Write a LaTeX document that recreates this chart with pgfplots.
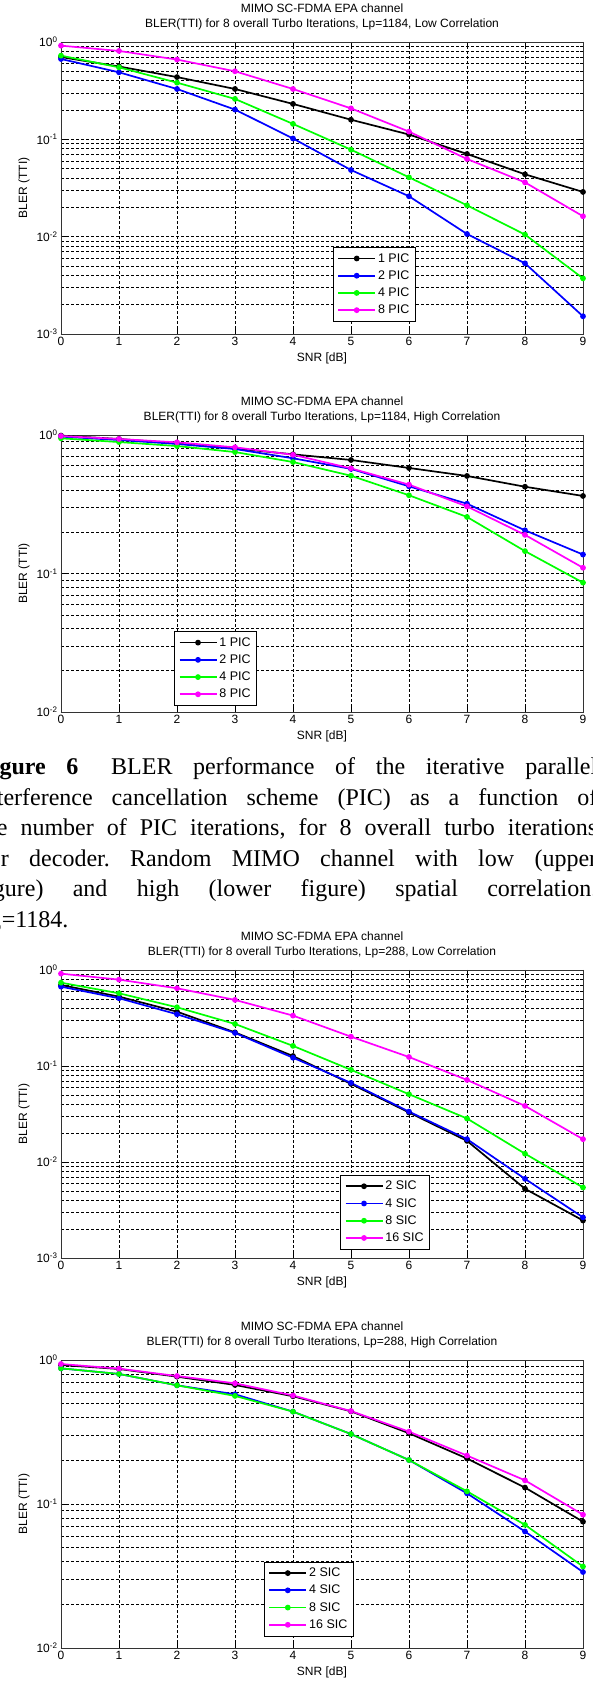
\documentclass[border=0pt]{standalone}
\usepackage{fontspec}
\setmainfont{Liberation Sans}
\newfontfamily\capfont{Liberation Serif}
\usepackage{pgfplots}
\usepackage{pgfplotstable}
\pgfplotsset{compat=1.18}

% Lp=1184, low correlation: x, 1 PIC, 2 PIC, 4 PIC, 8 PIC
\pgfplotstableread{
x a b c d
0 0.70 0.669 0.724 0.917
1 0.56 0.488 0.549 0.809
2 0.436 0.329 0.382 0.66
3 0.329 0.202 0.26 0.50
4 0.231 0.102 0.144 0.329
5 0.159 0.0484 0.0783 0.208
6 0.112 0.026 0.0407 0.12
7 0.0707 0.01065 0.021 0.0628
8 0.0437 0.00532 0.0105 0.0361
9 0.0288 0.00152 0.00373 0.0162
}\tabA
% Lp=1184, high correlation
\pgfplotstableread{
x a b c d
0 0.99 0.973 0.946 0.983
1 0.936 0.92 0.889 0.936
2 0.87 0.861 0.832 0.885
3 0.80 0.792 0.753 0.815
4 0.725 0.679 0.638 0.72
5 0.66 0.569 0.508 0.574
6 0.578 0.426 0.367 0.438
7 0.506 0.319 0.256 0.305
8 0.423 0.205 0.145 0.19
9 0.363 0.137 0.0859 0.110
}\tabB
% Lp=288, low correlation: 2 SIC, 4 SIC, 8 SIC, 16 SIC
\pgfplotstableread{
x a b c d
0 0.698 0.671 0.738 0.916
1 0.528 0.508 0.572 0.794
2 0.368 0.346 0.409 0.645
3 0.224 0.221 0.274 0.488
4 0.127 0.122 0.162 0.335
5 0.0651 0.0667 0.0912 0.202
6 0.0328 0.0335 0.0508 0.124
7 0.0166 0.0173 0.0284 0.0716
8 0.00526 0.00668 0.0122 0.0384
9 0.00246 0.00265 0.00543 0.0173
}\tabC
% Lp=288, high correlation
\pgfplotstableread{
x a b c d
0 0.923 0.875 0.875 0.938
1 0.866 0.80 0.80 0.871
2 0.766 0.667 0.667 0.774
3 0.671 0.578 0.563 0.689
4 0.56 0.438 0.438 0.567
5 0.44 0.306 0.306 0.442
6 0.31 0.202 0.202 0.318
7 0.207 0.1186 0.1225 0.217
8 0.13 0.0644 0.0717 0.146
9 0.0754 0.0337 0.0368 0.0843
}\tabD

\definecolor{mblue}{rgb}{0,0,1}
\definecolor{mgreen}{rgb}{0,1,0}
\definecolor{mmag}{rgb}{1,0,1}

\pgfplotsset{
  mlbase/.style={
    scale only axis, width=522pt, anchor=south west,
    xmin=0, xmax=9,
    xtick={0,1,2,3,4,5,6,7,8,9},
    xticklabels={0,1,2,3,4,5,6,7,8,9},
    tick align=inside,
    major tick length=5pt, minor tick length=3pt,
    every tick/.style={black, line width=0.6pt},
    xmajorgrids, ymajorgrids, yminorgrids,
    major grid style={black, line width=0.6pt, dash pattern=on 3pt off 2pt},
    minor grid style={black, line width=0.6pt, dash pattern=on 3pt off 2pt},
    axis line style={black!80, line width=0.8pt},
    tick label style={font=\fontsize{12}{14}\selectfont},
    label style={font=\fontsize{12}{14}\selectfont},
    title style={font=\fontsize{12}{15}\selectfont, align=center, yshift=2pt},
    xlabel={SNR [dB]}, ylabel={BLER (TTI)},
    legend cell align=left,
    legend style={font=\fontsize{12.5}{14}\selectfont, draw=black, line width=0.8pt, anchor=north west, inner xsep=4pt, inner ysep=4pt, row sep=3pt},
    legend image code/.code={\draw[mark repeat=2,mark phase=2,##1] plot coordinates {(0pt,0pt) (18.5pt,0pt) (37pt,0pt)};},
  },
}

\begin{document}
\begin{tikzpicture}
\useasboundingbox (0,0) rectangle (593pt,1681pt);

% ---------- plot 1 ----------
\begin{axis}[mlbase, ymode=log, ymin=0.001, ymax=1,
  ytick={0.001,0.01,0.1,1},
  yticklabels={10\textsuperscript{-3},10\textsuperscript{-2},10\textsuperscript{-1},10\textsuperscript{0}},
  minor ytick={0.002,0.003,0.004,0.005,0.006,0.007,0.008,0.009,0.02,0.03,0.04,0.05,0.06,0.07,0.08,0.09,0.2,0.3,0.4,0.5,0.6,0.7,0.8,0.9},
  at={(61pt,1347pt)}, height=292pt,
  title={MIMO SC-FDMA EPA channel\\BLER(TTI) for 8 overall Turbo Iterations, Lp=1184, Low Correlation},
  legend style={at={(0.521,0.298)}}]
\addplot[black, line width=1.7pt, mark=*, mark size=2pt] table[x=x,y=a] {\tabA};
\addplot[mblue, line width=1.7pt, mark=*, mark size=2pt] table[x=x,y=b] {\tabA};
\addplot[mgreen, line width=1.7pt, mark=*, mark size=2pt] table[x=x,y=c] {\tabA};
\addplot[mmag, line width=1.7pt, mark=*, mark size=2pt] table[x=x,y=d] {\tabA};
\legend{1 PIC,2 PIC,4 PIC,8 PIC}
\end{axis}

% ---------- plot 2 ----------
\begin{axis}[mlbase, ymode=log, ymin=0.01, ymax=1,
  ytick={0.01,0.1,1},
  yticklabels={10\textsuperscript{-2},10\textsuperscript{-1},10\textsuperscript{0}},
  minor ytick={0.02,0.03,0.04,0.05,0.06,0.07,0.08,0.09,0.2,0.3,0.4,0.5,0.6,0.7,0.8,0.9},
  at={(61pt,969pt)}, height=277pt,
  title={MIMO SC-FDMA EPA channel\\BLER(TTI) for 8 overall Turbo Iterations, Lp=1184, High Correlation},
  legend style={at={(0.217,0.292)}}]
\addplot[black, line width=1.7pt, mark=*, mark size=2pt] table[x=x,y=a] {\tabB};
\addplot[mblue, line width=1.7pt, mark=*, mark size=2pt] table[x=x,y=b] {\tabB};
\addplot[mgreen, line width=1.7pt, mark=*, mark size=2pt] table[x=x,y=c] {\tabB};
\addplot[mmag, line width=1.7pt, mark=*, mark size=2pt] table[x=x,y=d] {\tabB};
\legend{1 PIC,2 PIC,4 PIC,8 PIC}
\end{axis}

% ---------- caption ----------
\begin{scope}
\clip (0,0) rectangle (593pt,1681pt);
\tikzset{capl/.style={anchor=base west, inner sep=0pt, font=\capfont\fontsize{24}{30}\selectfont\frenchspacing}}
\node[capl] at (-22pt,906pt) {\makebox[619pt][s]{\textbf{Figure 6}\hspace{12pt} BLER performance of the iterative parallel}};
\node[capl] at (-22pt,875.5pt) {\makebox[619pt][s]{interference cancellation scheme (PIC) as a function of}};
\node[capl] at (-22pt,845pt) {\makebox[619pt][s]{the number of PIC iterations, for 8 overall turbo iterations}};
\node[capl] at (-22pt,814.5pt) {\makebox[619pt][s]{per decoder. Random MIMO channel with low (upper}};
\node[capl] at (-22pt,784pt) {\makebox[619pt][s]{figure) and high (lower figure) spatial correlation.}};
\node[capl] at (-22pt,753.5pt) {L\textsubscript{p}=1184.};
\end{scope}

% ---------- plot 3 ----------
\begin{axis}[mlbase, ymode=log, ymin=0.001, ymax=1,
  ytick={0.001,0.01,0.1,1},
  yticklabels={10\textsuperscript{-3},10\textsuperscript{-2},10\textsuperscript{-1},10\textsuperscript{0}},
  minor ytick={0.002,0.003,0.004,0.005,0.006,0.007,0.008,0.009,0.02,0.03,0.04,0.05,0.06,0.07,0.08,0.09,0.2,0.3,0.4,0.5,0.6,0.7,0.8,0.9},
  at={(61pt,423pt)}, height=288pt,
  title={MIMO SC-FDMA EPA channel\\BLER(TTI) for 8 overall Turbo Iterations, Lp=288, Low Correlation},
  legend style={at={(0.535,0.289)}}]
\addplot[black, line width=1.7pt, mark=*, mark size=2pt] table[x=x,y=a] {\tabC};
\addplot[mblue, line width=1.7pt, mark=*, mark size=2pt] table[x=x,y=b] {\tabC};
\addplot[mgreen, line width=1.7pt, mark=*, mark size=2pt] table[x=x,y=c] {\tabC};
\addplot[mmag, line width=1.7pt, mark=*, mark size=2pt] table[x=x,y=d] {\tabC};
\legend{2 SIC,4 SIC,8 SIC,16 SIC}
\end{axis}

% ---------- plot 4 ----------
\begin{axis}[mlbase, ymode=log, ymin=0.01, ymax=1,
  ytick={0.01,0.1,1},
  yticklabels={10\textsuperscript{-2},10\textsuperscript{-1},10\textsuperscript{0}},
  minor ytick={0.02,0.03,0.04,0.05,0.06,0.07,0.08,0.09,0.2,0.3,0.4,0.5,0.6,0.7,0.8,0.9},
  at={(61pt,33pt)}, height=288pt,
  title={MIMO SC-FDMA EPA channel\\BLER(TTI) for 8 overall Turbo Iterations, Lp=288, High Correlation},
  legend style={at={(0.389,0.300)}}]
\addplot[black, line width=1.7pt, mark=*, mark size=2pt] table[x=x,y=a] {\tabD};
\addplot[mblue, line width=1.7pt, mark=*, mark size=2pt] table[x=x,y=b] {\tabD};
\addplot[mgreen, line width=1.7pt, mark=*, mark size=2pt] table[x=x,y=c] {\tabD};
\addplot[mmag, line width=1.7pt, mark=*, mark size=2pt] table[x=x,y=d] {\tabD};
\legend{2 SIC,4 SIC,8 SIC,16 SIC}
\end{axis}
\end{tikzpicture}
\end{document}
